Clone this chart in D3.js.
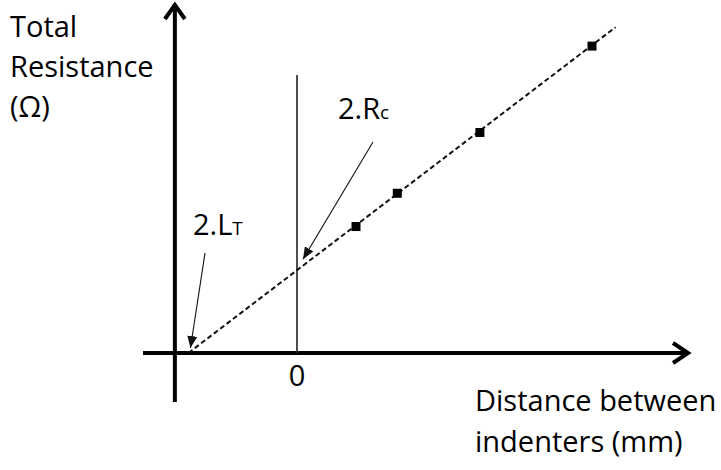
<!DOCTYPE html>
<html>
<head>
<meta charset="utf-8">
<script src="https://cdn.jsdelivr.net/npm/d3@7"></script>
<style>
  html, body { margin: 0; padding: 0; background: #fff; }
  svg { display: block; }
  text { font-family: "Open Sans", sans-serif; fill: #000; }
</style>
</head>
<body>
<svg id="chart" width="721" height="470"></svg>
<script>
// measured points: distance between indenters (mm) vs total resistance (Ω), arbitrary units
const distances = [1.0, 1.7, 3.1, 5.0];
const resistances = [2.81, 3.55, 4.9, 6.82];

// fitted straight line, from the x intercept (-2.LT) up past the last point
const fitX = [-1.84, 5.4];
const fitR = [0, 7.24];

const yAxisTitle = ["Total", "Resistance", "(Ω)"];
const xAxisTitle = ["Distance between", "indenters (mm)"];
const zeroLabel = "0";

const svg = d3.select("#chart");

// 59 px per mm, 45 px per Ω
const x = d3.scaleLinear().domain([0, 5]).range([297, 592]);
const y = d3.scaleLinear().domain([0, 7]).range([353, 38]);

svg.append("defs")
  .append("marker")
  .attr("id", "tri")
  .attr("viewBox", "0 0 12 10")
  .attr("refX", 12)
  .attr("refY", 5)
  .attr("markerWidth", 12)
  .attr("markerHeight", 10)
  .attr("markerUnits", "userSpaceOnUse")
  .attr("orient", "auto")
  .append("path")
  .attr("d", "M0,0L12,5L0,10Z")
  .attr("fill", "#111");

/* axes drawn as plain arrows, crossing at the left */
const axisX = x(-2.07);
const g = svg.append("g")
  .attr("stroke", "#000")
  .attr("stroke-width", 4)
  .attr("fill", "none")
  .attr("stroke-linejoin", "miter");

g.append("line")
  .attr("x1", axisX).attr("x2", axisX)
  .attr("y1", 402).attr("y2", 4);
g.append("path")
  .attr("d", `M${axisX - 10},19L${axisX},5L${axisX + 10},19`);

g.append("line")
  .attr("x1", 143).attr("x2", 688)
  .attr("y1", y(0)).attr("y2", y(0));
g.append("path")
  .attr("d", `M673,${y(0) - 10}L688,${y(0)}L673,${y(0) + 10}`);

/* vertical reference at distance 0 */
svg.append("line")
  .attr("x1", x(0)).attr("x2", x(0))
  .attr("y1", 75).attr("y2", y(0))
  .attr("stroke", "#222")
  .attr("stroke-width", 1.6);

/* fit line */
svg.append("line")
  .attr("x1", x(fitX[0])).attr("y1", y(fitR[0]))
  .attr("x2", x(fitX[1])).attr("y2", y(fitR[1]))
  .attr("stroke", "#111")
  .attr("stroke-width", 2)
  .attr("stroke-dasharray", "5,3");

/* data points */
const SIZE = 9;
svg.append("g")
  .selectAll("rect")
  .data(distances)
  .join("rect")
  .attr("x", (d) => x(d) - SIZE / 2)
  .attr("y", (d, i) => y(resistances[i]) - SIZE / 2)
  .attr("width", SIZE)
  .attr("height", SIZE)
  .attr("fill", "#000");

/* annotation arrows */
const notes = svg.append("g")
  .attr("stroke", "#111")
  .attr("stroke-width", 1.1);
notes.append("line")
  .attr("x1", 373).attr("y1", 142)
  .attr("x2", x(0) + 6).attr("y2", y(fitR[0] + 1.84) - 11)
  .attr("marker-end", "url(#tri)");
notes.append("line")
  .attr("x1", 205).attr("y1", 253)
  .attr("x2", x(fitX[0]) + 2).attr("y2", y(0) - 5)
  .attr("marker-end", "url(#tri)");

/* labels */
const FONT = 29;
const SUB = 19;
svg.append("text")
  .attr("x", 338).attr("y", 119)
  .attr("font-size", FONT)
  .call((t) => {
    t.append("tspan").text("2.R");
    t.append("tspan").attr("font-size", SUB).text("c");
  });

svg.append("text")
  .attr("x", 193).attr("y", 235)
  .attr("font-size", FONT)
  .call((t) => {
    t.append("tspan").text("2.L");
    t.append("tspan").attr("font-size", SUB).text("T");
  });

svg.append("text")
  .attr("x", x(0)).attr("y", 386)
  .attr("text-anchor", "middle")
  .attr("font-size", FONT)
  .text(zeroLabel);

svg.append("g")
  .selectAll("text")
  .data(yAxisTitle)
  .join("text")
  .attr("x", 10)
  .attr("y", (d, i) => 37 + i * 40)
  .attr("font-size", FONT)
  .text((d) => d);

svg.append("g")
  .selectAll("text")
  .data(xAxisTitle)
  .join("text")
  .attr("x", 475)
  .attr("y", (d, i) => 411 + i * 41)
  .attr("font-size", FONT)
  .text((d) => d);
</script>
</body>
</html>
